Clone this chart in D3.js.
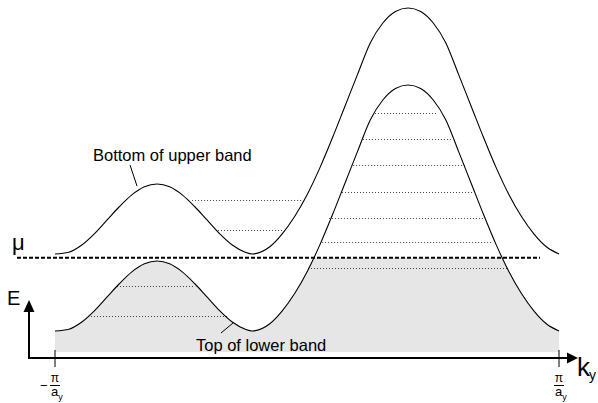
<!DOCTYPE html>
<html>
<head>
<meta charset="utf-8">
<script src="https://cdn.jsdelivr.net/npm/d3@7"></script>
<style>
	body { margin: 0; background: #fff; }
	svg { display: block; font-family: "Liberation Sans", Arial, sans-serif; }
</style>
</head>
<body>
<svg id="chart" width="598" height="403"></svg>
<script>
// k in units of pi/a_y, E in arbitrary units
const kBand = [
	-1.000, -0.945, -0.895, -0.845, -0.795, -0.745, -0.695, -0.645, -0.595, -0.545,
	-0.495, -0.445, -0.395, -0.345, -0.295, -0.245, -0.218, -0.149, -0.099, -0.049,
	0.001, 0.051, 0.101, 0.151, 0.201, 0.251, 0.301, 0.351, 0.401, 0.451,
	0.501, 0.551, 0.601, 0.651, 0.701, 0.751, 0.801, 0.851, 0.901, 0.951,
	1.000,
]
const eLower = [
	6.0, 6.5, 8.5, 11.7, 15.6, 19.5, 22.9, 25.2, 26.0, 25.2,
	22.9, 19.5, 15.6, 11.7, 8.5, 6.5, 6.0, 8.0, 11.7, 16.7,
	23.0, 30.6, 39.2, 48.3, 57.4, 66.3, 72.0, 75.3, 76.3, 75.3,
	72.0, 66.3, 57.4, 48.3, 39.2, 30.6, 23.0, 16.7, 11.7, 8.0,
	6.0,
]
const eUpper = [
	28.0, 28.5, 30.5, 33.7, 37.6, 41.5, 44.9, 47.2, 48.0, 47.2,
	44.9, 41.5, 37.6, 33.7, 30.5, 28.5, 28.0, 30.0, 33.7, 38.7,
	45.0, 52.6, 61.2, 70.3, 79.4, 88.3, 94.0, 97.3, 98.3, 97.3,
	94.0, 88.3, 79.4, 70.3, 61.2, 52.6, 45.0, 38.7, 33.7, 30.0,
	28.0,
]
const mu = 26.9

// filled levels (dotted lines)
const levelE = [68.3, 60.9, 53.4, 45.7, 38.3, 31.4, 24.0, 18.9, 10.3, 43.4, 34.9]
const levelFrom = [0.270, 0.222, 0.183, 0.139, 0.087, 0.060, 0.004, -0.754, -0.869, -0.456, -0.353]
const levelTo = [0.520, 0.575, 0.627, 0.659, 0.698, 0.738, 0.794, -0.444, -0.317, -0.020, -0.095]

const tickK = [-1, 1]
const tickSign = ["\u2212", ""]
const labelText = ["Bottom of upper band", "Top of lower band"]

const svg = d3.select("#chart")

const x = d3.scaleLinear().domain([-1, 1]).range([55, 559])
const y = d3.scaleLinear().domain([0, 100]).range([352, 2])

const line = d3.line()
	.x((d, i) => x(kBand[i]))
	.y(d => y(d))
	.curve(d3.curveMonotoneX)

const area = d3.area()
	.x((d, i) => x(kBand[i]))
	.y0(y(0))
	.y1(d => y(d))
	.curve(d3.curveMonotoneX)

// occupied states: under the lower band, capped at mu
svg.append("clipPath")
	.attr("id", "belowMu")
	.append("rect")
	.attr("x", x(-1))
	.attr("y", y(mu))
	.attr("width", x(1) - x(-1))
	.attr("height", y(0) - y(mu))

svg.append("path")
	.datum(eLower)
	.attr("d", area)
	.attr("fill", "#e6e6e6")
	.attr("clip-path", "url(#belowMu)")

svg.append("g")
	.selectAll("line")
	.data(levelE)
	.join("line")
	.attr("x1", (d, i) => x(levelFrom[i]))
	.attr("x2", (d, i) => x(levelTo[i]))
	.attr("y1", d => Math.round(y(d)) + 0.5)
	.attr("y2", d => Math.round(y(d)) + 0.5)
	.attr("stroke", "#444")
	.attr("stroke-width", 1)
	.attr("stroke-dasharray", "1,2")

// chemical potential
svg.append("line")
	.attr("x1", 17)
	.attr("x2", 540)
	.attr("y1", y(mu))
	.attr("y2", y(mu))
	.attr("stroke", "#000")
	.attr("stroke-width", 2)
	.attr("stroke-dasharray", "4,2")

svg.append("text")
	.attr("x", 12)
	.attr("y", 250)
	.style("font-size", "22px")
	.text("\u03bc")

svg.selectAll("path.band")
	.data([eUpper, eLower])
	.join("path")
	.attr("class", "band")
	.attr("d", line)
	.attr("fill", "none")
	.attr("stroke", "#000")
	.attr("stroke-width", 1.1)

// annotations
const ann = svg.append("g").style("font-size", "16.5px")
ann.append("text").attr("x", 93).attr("y", 161).text(labelText[0])
ann.append("line")
	.attr("x1", 130).attr("y1", 165)
	.attr("x2", 137).attr("y2", 186)
	.attr("stroke", "#000")
ann.append("text").attr("x", 196).attr("y", 351).text(labelText[1])
ann.append("line")
	.attr("x1", 221).attr("y1", 333)
	.attr("x2", 233).attr("y2", 323)
	.attr("stroke", "#000")

// axes
const ax = svg.append("g")
ax.append("line")
	.attr("x1", 28).attr("x2", 568)
	.attr("y1", 358).attr("y2", 358)
	.attr("stroke", "#000").attr("stroke-width", 2)
ax.append("path")
	.attr("d", "M567,352.5L578,358L567,363.5Z")
ax.append("line")
	.attr("x1", 29).attr("x2", 29)
	.attr("y1", 359).attr("y2", 311)
	.attr("stroke", "#000").attr("stroke-width", 2)
ax.append("path")
	.attr("d", "M23.5,312L29,300L34.5,312Z")

ax.append("text")
	.attr("x", 7).attr("y", 305)
	.style("font-size", "20px")
	.text("E")
const kLab = ax.append("text")
	.attr("x", 577).attr("y", 376)
	.style("font-size", "26px")
	.text("k")
kLab.append("tspan")
	.attr("dx", -1).attr("dy", 4)
	.style("font-size", "14px")
	.text("y")

const ticks = ax.selectAll("g.tick")
	.data(tickK)
	.join("g")
	.attr("class", "tick")
	.attr("transform", d => `translate(${x(d)},0)`)
ticks.append("line")
	.attr("y1", 350).attr("y2", 367)
	.attr("stroke", "#000")
ticks.append("text")
	.attr("x", -15).attr("y", 390)
	.style("font-size", "13px")
	.text((d, i) => tickSign[i])
ticks.append("text")
	.attr("y", 382)
	.attr("text-anchor", "middle")
	.style("font-size", "12px")
	.text("\u03c0")
ticks.append("line")
	.attr("x1", -5).attr("x2", 5)
	.attr("y1", 385.5).attr("y2", 385.5)
	.attr("stroke", "#000")
const aLab = ticks.append("text")
	.attr("x", -4).attr("y", 396)
	.style("font-size", "13px")
	.text("a")
aLab.append("tspan")
	.attr("dy", 4)
	.style("font-size", "9px")
	.text("y")
</script>
</body>
</html>
